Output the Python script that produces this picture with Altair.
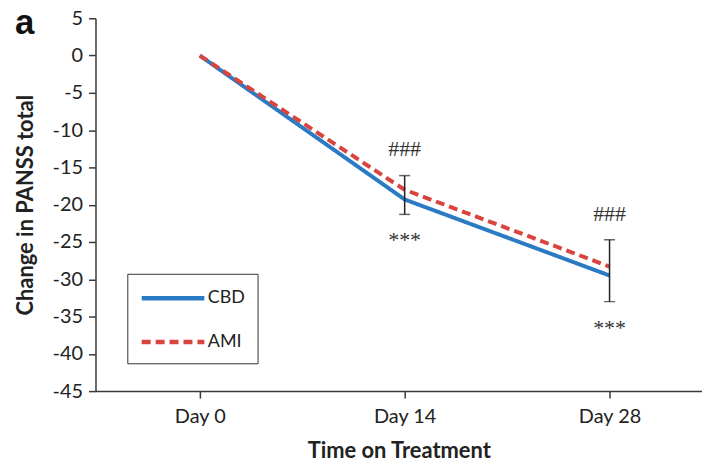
import altair as alt
import pandas as pd

days = ["Day 0", "Day 14", "Day 28"]
cbd = [0, -19.3, -29.5]
ami = [0, -18.0, -28.3]
err_days = ["Day 14", "Day 28"]
err_lo = [-21.3, -33.0]
err_hi = [-16.1, -24.7]
hash_y = [-12.6, -21.2]
star_y = [-24.8, -36.5]
series = ["CBD", "AMI"]
y_ticks = list(range(-45, 6, 5))

lines = pd.DataFrame({
    "day": days * 2,
    "value": cbd + ami,
    "series": ["CBD"] * 3 + ["AMI"] * 3,
})
errs = pd.DataFrame({"day": err_days, "lo": err_lo, "hi": err_hi})
hashes = pd.DataFrame({"day": err_days, "y": hash_y, "t": ["###"] * 2})
stars = pd.DataFrame({"day": err_days, "y": star_y, "t": ["***"] * 2})

xscale = alt.Scale(type="point", domain=days, padding=0.48, align=0.53)
yscale = alt.Scale(domain=[-45, 5], nice=False, zero=False)
FONT = "Lato"
X = alt.X("day:N", scale=xscale, sort=days)

x = alt.X("day:N", scale=xscale, sort=days,
          axis=alt.Axis(title="Time on Treatment", labelAngle=0, labelPadding=9,
                        titlePadding=14))
y_axis = alt.Axis(title="Change in PANSS total", values=y_ticks, tickCount=20,
                  grid=False, titlePadding=15, labelOverlap=False, labelPadding=6,
                  labelExpr="'' + datum.value")

legend_common = dict(title=None, orient="none", legendX=32, legendY=257,
                     strokeColor="#333", padding=12, rowPadding=22,
                     symbolType="M-1,0H5.3", symbolSize=400,
                     symbolStrokeWidth=4.5, labelFontSize=18,
                     labelFont=FONT, labelColor="#222", labelOffset=44,
                     symbolOpacity=1)

line = alt.Chart(lines).mark_line(strokeWidth=4).encode(
    x=x,
    y=alt.Y("value:Q", scale=yscale, axis=y_axis),
    color=alt.Color("series:N", scale=alt.Scale(domain=series, range=["#2b7bc4", "#d9443f"]),
                    legend=alt.Legend(**legend_common)),
    strokeDash=alt.StrokeDash("series:N", scale=alt.Scale(domain=series, range=[[1, 0], [9, 5]]),
                              legend=alt.Legend(**legend_common)),
)

rule = alt.Chart(errs).mark_rule(color="#222", strokeWidth=1.5).encode(
    x=X, y="lo:Q", y2="hi:Q")
cap_lo = alt.Chart(errs).mark_tick(color="#222", thickness=1.5, size=11).encode(
    x=X, y="lo:Q")
cap_hi = alt.Chart(errs).mark_tick(color="#222", thickness=1.5, size=11).encode(
    x=X, y="hi:Q")

txt_h = alt.Chart(hashes).mark_text(font="Liberation Serif", fontSize=22, color="#333",
                                   baseline="middle").encode(
    x=X, y="y:Q", text="t:N")
txt_s = alt.Chart(stars).mark_text(font="Liberation Serif", fontSize=22, color="#333",
                                  baseline="middle").encode(
    x=X, y="y:Q", text="t:N")

chart = alt.layer(line, rule, cap_lo, cap_hi, txt_h, txt_s).properties(
    width=610, height=375,
    autosize=alt.AutoSizeParams(type="none"),
    padding={"left": 88, "top": 9, "right": 0, "bottom": 74},
    title=alt.TitleParams("a", anchor="start", frame="group", fontSize=35,
                          fontWeight="bold", font="Liberation Sans", color="#111",
                          dx=-81, dy=33, offset=0),
).configure_view(stroke=None).configure_axis(
    domainColor="#3a3a3a", tickColor="#3a3a3a", domainWidth=1.5, tickWidth=1.5,
    tickSize=7, labelFont=FONT, labelFontSize=20, labelColor="#222",
    titleFont=FONT, titleFontSize=22, titleFontWeight="bold", titleColor="#222",
)

chart.save("out.html", embed_options={"renderer": "svg", "actions": False})
